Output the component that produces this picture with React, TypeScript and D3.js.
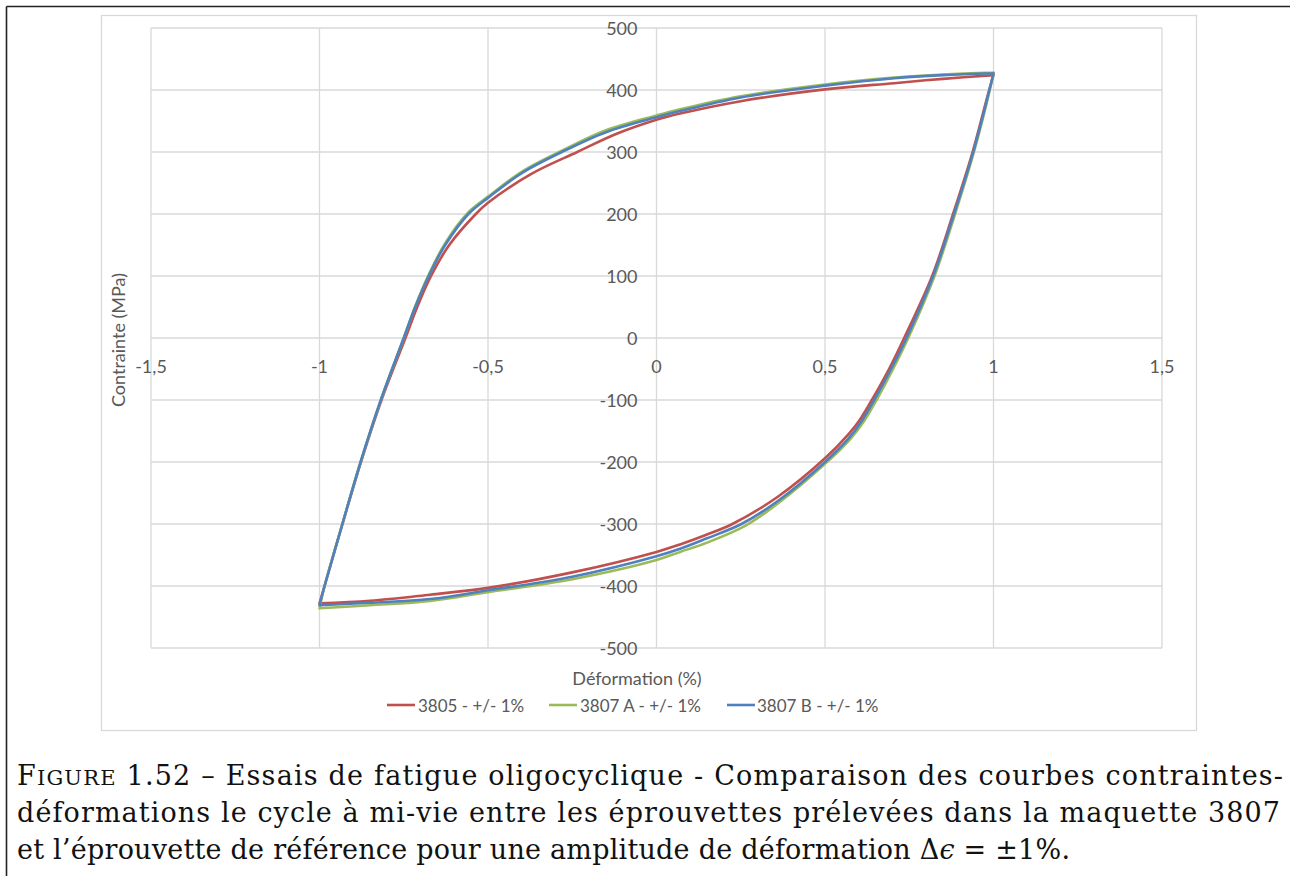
import React from "react";
import * as d3 from "d3";

// ---------- data ----------
const xTicks = [-1.5, -1, -0.5, 0, 0.5, 1, 1.5];
const xTickLabels = ["-1,5", "-1", "-0,5", "0", "0,5", "1", "1,5"];
const yTicks = [-500, -400, -300, -200, -100, 0, 100, 200, 300, 400, 500];
const yTickLabels = ["-500", "-400", "-300", "-200", "-100", "0", "100", "200", "300", "400", "500"];

const seriesNames = ["3805 - +/- 1%", "3807 A - +/- 1%", "3807 B - +/- 1%"];
const seriesColors = ["#C0504D", "#9BBB59", "#4F81BD"];

// 3805 loading branch (strain %, stress MPa)
const s3805LoadStrain = [-1.0, -0.985, -0.932, -0.877, -0.816, -0.745, -0.71, -0.669, -0.615, -0.536, -0.5, -0.37, -0.235, -0.12, 0, 0.07, 0.25, 0.5, 0.705, 0.85, 1.0];
const s3805LoadStress = [-428, -400, -300, -200, -100, 0, 50, 100, 150, 200, 218, 265, 300, 329, 352, 362, 382, 401, 411, 418, 424];
// 3805 unloading branch
const s3805UnloadStrain = [1.0, 0.987, 0.938, 0.88, 0.818, 0.735, 0.69, 0.639, 0.602, 0.57, 0.5, 0.36, 0.225, 0.15, 0.07, 0, -0.25, -0.5, -0.672, -0.85, -1.0];
const s3805UnloadStress = [424, 400, 300, 200, 100, 0, -50, -100, -133, -155, -194, -256, -300, -317, -333, -345, -378, -403, -414, -424, -428];

// 3807 A
const s3807ALoadStrain = [-1.0, -0.985, -0.932, -0.878, -0.818, -0.75, -0.716, -0.676, -0.627, -0.558, -0.5, -0.4, -0.281, -0.15, 0, 0.07, 0.25, 0.5, 0.705, 0.85, 1.0];
const s3807ALoadStress = [-436, -400, -300, -200, -100, 0, 51, 102, 153, 203, 228, 268, 302, 335, 359, 369, 390, 409, 420, 425, 428];
const s3807AUnloadStrain = [1.0, 0.989, 0.942, 0.886, 0.825, 0.747, 0.702, 0.653, 0.617, 0.575, 0.5, 0.36, 0.263, 0.15, 0.07, 0, -0.25, -0.5, -0.672, -0.85, -1.0];
const s3807AUnloadStress = [428, 400, 300, 200, 100, 0, -50, -100, -133, -163, -203, -267, -303, -330, -345, -358, -389, -410, -424, -431, -436];

// 3807 B
const s3807BLoadStrain = [-1.0, -0.985, -0.932, -0.878, -0.818, -0.75, -0.716, -0.676, -0.627, -0.558, -0.5, -0.4, -0.281, -0.15, 0, 0.07, 0.25, 0.5, 0.705, 0.85, 1.0];
const s3807BLoadStress = [-431, -400, -300, -200, -100, 0, 50, 100, 150, 200, 226, 266, 300, 332, 356, 366, 388, 407, 419, 424, 427];
const s3807BUnloadStrain = [1.0, 0.988, 0.94, 0.883, 0.821, 0.742, 0.696, 0.646, 0.61, 0.57, 0.5, 0.36, 0.252, 0.15, 0.07, 0, -0.25, -0.5, -0.672, -0.85, -1.0];
const s3807BUnloadStress = [427, 400, 300, 200, 100, 0, -50, -100, -133, -162, -200, -263, -300, -323, -340, -352, -385, -407, -421, -427, -431];

const seriesBranches = [
  [[s3805LoadStrain, s3805LoadStress], [s3805UnloadStrain, s3805UnloadStress]],
  [[s3807ALoadStrain, s3807ALoadStress], [s3807AUnloadStrain, s3807AUnloadStress]],
  [[s3807BLoadStrain, s3807BLoadStress], [s3807BUnloadStrain, s3807BUnloadStress]],
];

const captionLine1Rest = " 1.52 – Essais de fatigue oligocyclique - Comparaison des courbes contraintes-";
const captionLine2 = "déformations le cycle à mi-vie entre les éprouvettes prélevées dans la maquette 3807";
const captionLine3a = "et l’éprouvette de référence pour une amplitude de déformation Δ";
const captionLine3b = " = ±1%.";

// ---------- layout ----------
const W = 1290;
const H = 876;
const plot = { left: 151, right: 1162, top: 28, bottom: 648 };
const gridColor = "#D9D9D9";
const textColor = "#595959";
const sansFont = "Lato, 'Open Sans', sans-serif";
const serifFont = "'DejaVu Serif', serif";

export default function App() {
  const x = d3.scaleLinear().domain([-1.5, 1.5]).range([plot.left, plot.right]);
  const y = d3.scaleLinear().domain([-500, 500]).range([plot.bottom, plot.top]);
  const line = d3
    .line<[number, number]>()
    .x((d) => x(d[0]))
    .y((d) => y(d[1]))
    .curve(d3.curveCatmullRom.alpha(0.5));

  const paths = seriesBranches.map((branches) =>
    branches
      .map(([xs, ys]) => line(xs.map((v, i) => [v, ys[i]] as [number, number])) || "")
      .join("")
  );

  const x0 = x(0);
  const y0 = y(0);

  const legendItems = [
    { lx: 387, tx: 418 },
    { lx: 549, tx: 580 },
    { lx: 727, tx: 757 },
  ];

  return (
    <div style={{ position: "absolute", left: 0, top: 0, width: W, height: H, background: "#fff" }}>
      <svg width={W} height={H} style={{ display: "block" }}>
        <rect x={0} y={0} width={W} height={H} fill="#fff" />
        {/* outer frame */}
        <line x1={6.5} y1={6.5} x2={W} y2={6.5} stroke="#222" strokeWidth={1.6} />
        <line x1={6.5} y1={6.5} x2={6.5} y2={H} stroke="#222" strokeWidth={1.6} />

        {/* chart area */}
        <rect x={101.5} y={15.5} width={1095} height={715} fill="#fff" stroke={gridColor} strokeWidth={1.3} />

        {/* gridlines */}
        {xTicks.map((t) => (
          <line key={"gx" + t} x1={x(t)} x2={x(t)} y1={plot.top} y2={plot.bottom} stroke={gridColor} strokeWidth={1.3} />
        ))}
        {yTicks.map((t) => (
          <line key={"gy" + t} x1={plot.left} x2={plot.right} y1={y(t)} y2={y(t)} stroke={gridColor} strokeWidth={1.3} />
        ))}

        {/* tick labels */}
        {yTicks.map((t, i) => (
          <text
            key={"ly" + t}
            x={x0 - 19}
            y={y(t)}
            textAnchor="end"
            dominantBaseline="central"
            fontFamily={sansFont}
            fontSize={18}
            fill={textColor}
          >
            {yTickLabels[i]}
          </text>
        ))}
        {xTicks.map((t, i) => (
          <text
            key={"lx" + t}
            x={x(t)}
            y={y0 + 28}
            textAnchor="middle"
            dominantBaseline="central"
            fontFamily={sansFont}
            fontSize={18}
            fill={textColor}
          >
            {xTickLabels[i]}
          </text>
        ))}

        {/* series */}
        {paths.map((p, i) => (
          <path
            key={"s" + i}
            d={p}
            fill="none"
            stroke={seriesColors[i]}
            strokeWidth={2.6}
            strokeLinejoin="round"
            strokeLinecap="round"
          />
        ))}

        {/* axis titles */}
        <text
          x={637}
          y={678}
          textAnchor="middle"
          dominantBaseline="central"
          fontFamily={sansFont}
          fontSize={18}
          fill={textColor}
        >
          Déformation (%)
        </text>
        <text
          transform="translate(118,340) rotate(-90)"
          textAnchor="middle"
          dominantBaseline="central"
          fontFamily={sansFont}
          fontSize={18}
          fill={textColor}
        >
          Contrainte (MPa)
        </text>

        {/* legend */}
        {legendItems.map((it, i) => (
          <g key={"lg" + i}>
            <line x1={it.lx} x2={it.lx + 28} y1={705} y2={705} stroke={seriesColors[i]} strokeWidth={2.6} />
            <text
              x={it.tx}
              y={705}
              dominantBaseline="central"
              fontFamily={sansFont}
              fontSize={17}
              fill={textColor}
            >
              {seriesNames[i]}
            </text>
          </g>
        ))}

        {/* caption */}
        <text x={17} y={785} fontFamily={serifFont} fontSize={27} fill="#111" textLength={1266} lengthAdjust="spacing">
          F<tspan fontSize={21}>IGURE</tspan>
          {captionLine1Rest}
        </text>
        <text x={17} y={822} fontFamily={serifFont} fontSize={27} fill="#111" textLength={1263} lengthAdjust="spacing">
          {captionLine2}
        </text>
        <text x={17} y={859} fontFamily={serifFont} fontSize={27} fill="#111" textLength={1053} lengthAdjust="spacing">
          {captionLine3a}
          <tspan fontStyle="italic">ϵ</tspan>
          {captionLine3b}
        </text>
      </svg>
    </div>
  );
}
